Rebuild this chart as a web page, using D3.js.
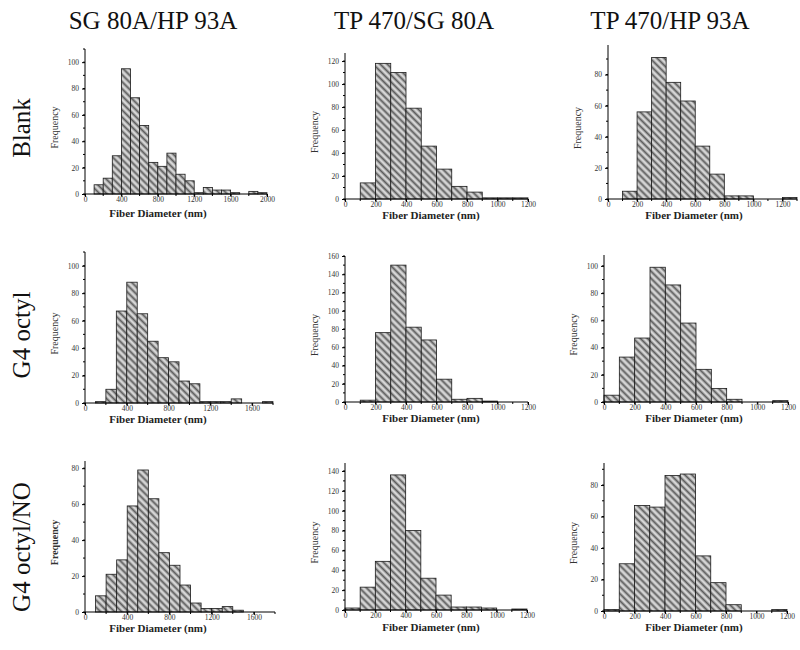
<!DOCTYPE html>
<html><head><meta charset="utf-8">
<script src="https://cdn.jsdelivr.net/npm/d3@7"></script>
<style>body{margin:0;background:#fff}svg{display:block}</style>
</head><body>
<script>
// ---- data (bin start values, 100 nm bins) ----
const colTitles = ["SG 80A/HP 93A", "TP 470/SG 80A", "TP 470/HP 93A"];
const rowTitles = ["Blank", "G4 octyl", "G4 octyl/NO"];
const xLabel = "Fiber Diameter (nm)";
const yLabel = "Frequency";
const binWidth = 100;

// row 1
const blank_SGHP_bins = [100,200,300,400,500,600,700,800,900,1000,1100,1200,1300,1400,1500,1600,1700,1800,1900];
const blank_SGHP_freq = [7,12,29,95,73,52,24,21,31,15,10,1,5,3,3,1,0,2,1];
const blank_TPSG_bins = [100,200,300,400,500,600,700,800,900,1000,1100];
const blank_TPSG_freq = [14,118,110,79,46,26,11,6,1,1,1];
const blank_TPHP_bins = [100,200,300,400,500,600,700,800,900,1000,1100,1200];
const blank_TPHP_freq = [5,56,91,75,63,34,16,2,2,0,0,1];
// row 2
const g4_SGHP_bins = [100,200,300,400,500,600,700,800,900,1000,1100,1200,1300,1400,1500,1600,1700];
const g4_SGHP_freq = [1,10,67,88,65,45,33,30,16,14,1,1,1,3,0,0,1];
const g4_TPSG_bins = [100,200,300,400,500,600,700,800,900];
const g4_TPSG_freq = [2,76,150,82,68,25,3,4,1];
const g4_TPHP_bins = [0,100,200,300,400,500,600,700,800,900,1000,1100];
const g4_TPHP_freq = [5,33,47,99,86,58,24,10,2,0,0,1];
// row 3
const g4no_SGHP_bins = [100,200,300,400,500,600,700,800,900,1000,1100,1200,1300,1400];
const g4no_SGHP_freq = [9,21,29,59,79,63,33,26,15,5,2,2,3,1];
const g4no_TPSG_bins = [0,100,200,300,400,500,600,700,800,900,1000,1100];
const g4no_TPSG_freq = [2,23,49,136,80,32,15,3,3,2,0,1];
const g4no_TPHP_bins = [0,100,200,300,400,500,600,700,800,900,1000,1100];
const g4no_TPHP_freq = [1,30,67,66,86,87,35,18,4,0,0,1];

// axis tick labels
const xTicks2000 = [0,400,800,1200,1600,2000];
const xTicks1800 = [0,400,800,1200,1600];
const xTicks1200 = [0,200,400,600,800,1000,1200];
const yTicks100 = [0,20,40,60,80,100];
const yTicks120 = [0,20,40,60,80,100,120];
const yTicks80 = [0,20,40,60,80];
const yTicks140 = [0,20,40,60,80,100,120,140];
const yTicks160 = [0,20,40,60,80,100,120,140,160];

// ---- layout ----
const panels = [
  {bins:blank_SGHP_bins, freq:blank_SGHP_freq, xMax:2000, yMax:110, xt:xTicks2000, yt:yTicks100, L:85,  R:267, B:194, T:49,  lx:158, bold:false},
  {bins:blank_TPSG_bins, freq:blank_TPSG_freq, xMax:1200, yMax:127, xt:xTicks1200, yt:yTicks120, L:345, R:528, B:199, T:53,  lx:431, bold:false},
  {bins:blank_TPHP_bins, freq:blank_TPHP_freq, xMax:1300, yMax:99,  xt:xTicks1200, yt:yTicks80,  L:608, R:797, B:199, T:45,  lx:694, bold:false},
  {bins:g4_SGHP_bins, freq:g4_SGHP_freq, xMax:1800, yMax:110, xt:xTicks1800, yt:yTicks100, L:85,  R:273, B:403, T:252, lx:158, bold:false},
  {bins:g4_TPSG_bins, freq:g4_TPSG_freq, xMax:1200, yMax:160, xt:xTicks1200, yt:yTicks160, L:345, R:528, B:402, T:256, lx:431, bold:false},
  {bins:g4_TPHP_bins, freq:g4_TPHP_freq, xMax:1200, yMax:108, xt:xTicks1200, yt:yTicks100, L:604, R:788, B:402, T:255, lx:694, bold:false},
  {bins:g4no_SGHP_bins, freq:g4no_SGHP_freq, xMax:1800, yMax:84, xt:xTicks1800, yt:yTicks80, L:85,  R:275, B:612, T:461, lx:158, bold:true},
  {bins:g4no_TPSG_bins, freq:g4no_TPSG_freq, xMax:1200, yMax:148, xt:xTicks1200, yt:yTicks140, L:345, R:527, B:610, T:463, lx:431, bold:false},
  {bins:g4no_TPHP_bins, freq:g4no_TPHP_freq, xMax:1200, yMax:94, xt:xTicks1200, yt:yTicks80, L:604, R:787, B:611, T:463, lx:694, bold:false}
];
const colTitleX = [153, 414, 670];
const rowTitleY = [128, 335, 547];
const xLabelY = [217, 422, 631];

const W = 800, H = 650;
const svg = d3.select("body").append("svg").attr("width", W).attr("height", H);
const defs = svg.append("defs");
const pat = defs.append("pattern").attr("id","hatch").attr("patternUnits","userSpaceOnUse")
  .attr("width",5).attr("height",5).attr("patternTransform","rotate(-45)");
pat.append("rect").attr("width",5).attr("height",5).attr("fill","#9c9c9c");
pat.append("line").attr("x1",1).attr("x2",1).attr("y1",0).attr("y2",5).attr("stroke","#f4f4f4").attr("stroke-width",1.3);
pat.append("line").attr("x1",3.5).attr("x2",3.5).attr("y1",0).attr("y2",5).attr("stroke","#555").attr("stroke-width",0.9);

const serif = "'Liberation Serif','Times New Roman',serif";

// column titles
svg.selectAll("text.ct").data(colTitles).join("text").attr("class","ct")
  .attr("x",(d,i)=>colTitleX[i]).attr("y",29).attr("text-anchor","middle")
  .attr("font-family",serif).attr("font-size",25).attr("fill","#111")
  .text(d=>d);
// row titles
svg.selectAll("text.rt").data(rowTitles).join("text").attr("class","rt")
  .attr("transform",(d,i)=>`translate(30,${rowTitleY[i]}) rotate(-90)`)
  .attr("text-anchor","middle").attr("font-family",serif).attr("font-size",25).attr("fill","#111")
  .text(d=>d);

panels.forEach((p,i)=>{
  const g = svg.append("g");
  const x = d3.scaleLinear().domain([0,p.xMax]).range([p.L,p.R]);
  const y = d3.scaleLinear().domain([0,p.yMax]).range([p.B,p.T]);
  // bars
  g.selectAll("rect.bar").data(p.freq.map((f,k)=>({x0:p.bins[k],f}))).join("rect")
    .attr("x",d=>x(d.x0)).attr("width",d=>x(d.x0+binWidth)-x(d.x0))
    .attr("y",d=>y(d.f)).attr("height",d=>y(0)-y(d.f))
    .attr("fill","url(#hatch)").attr("stroke","#1a1a1a").attr("stroke-width",0.8);
  // x axis
  const xStep = p.xt[1]-p.xt[0];
  const xMinor = d3.range(0,p.xMax+1,xStep/2);
  const xa = g.append("g").attr("transform",`translate(0,${p.B})`)
    .call(d3.axisBottom(x).tickValues(p.xt).tickSize(3).tickFormat(d3.format("d")));
  xa.append("g").selectAll("line").data(xMinor).join("line")
    .attr("x1",d=>x(d)).attr("x2",d=>x(d)).attr("y1",0).attr("y2",2).attr("stroke","#000");
  const ya = g.append("g").attr("transform",`translate(${p.L},0)`)
    .call(d3.axisLeft(y).tickValues(p.yt).tickSize(3).tickFormat(d3.format("d")));
  const yMinor = d3.range(0,p.yMax+0.01,(p.yt[1]-p.yt[0])/2);
  ya.append("g").selectAll("line").data(yMinor).join("line")
    .attr("y1",d=>y(d)).attr("y2",d=>y(d)).attr("x1",0).attr("x2",-2).attr("stroke","#000");
  [xa,ya].forEach(a=>{
    a.select(".domain").attr("stroke","#000").attr("stroke-width",1);
    a.selectAll(".tick line").attr("stroke","#000");
    a.selectAll("text").attr("font-family",serif).attr("font-size",7.5).attr("fill","#333");
  });
  xa.select(".domain").attr("d",`M${p.L},0H${p.R}`);
  ya.select(".domain").attr("d",`M0,${p.B}V${p.T}`);
  xa.selectAll(".tick text").attr("y",3).attr("dy","0.71em");
  // axis labels
  const ly = Math.max(xLabelY[Math.floor(i/3)], p.B + 20);
  g.append("text").attr("x",p.lx).attr("y",ly).attr("text-anchor","middle")
    .attr("font-family",serif).attr("font-size",11).attr("font-weight","bold").attr("fill","#222")
    .text(xLabel);
  g.append("text").attr("transform",`translate(${p.L-27},${(p.B+p.T)/2+6}) rotate(-90)`)
    .attr("text-anchor","middle").attr("font-family",serif).attr("font-size",10)
    .attr("font-weight",p.bold?"bold":"normal").attr("fill","#333").text(yLabel);
});
</script>
</body></html>
